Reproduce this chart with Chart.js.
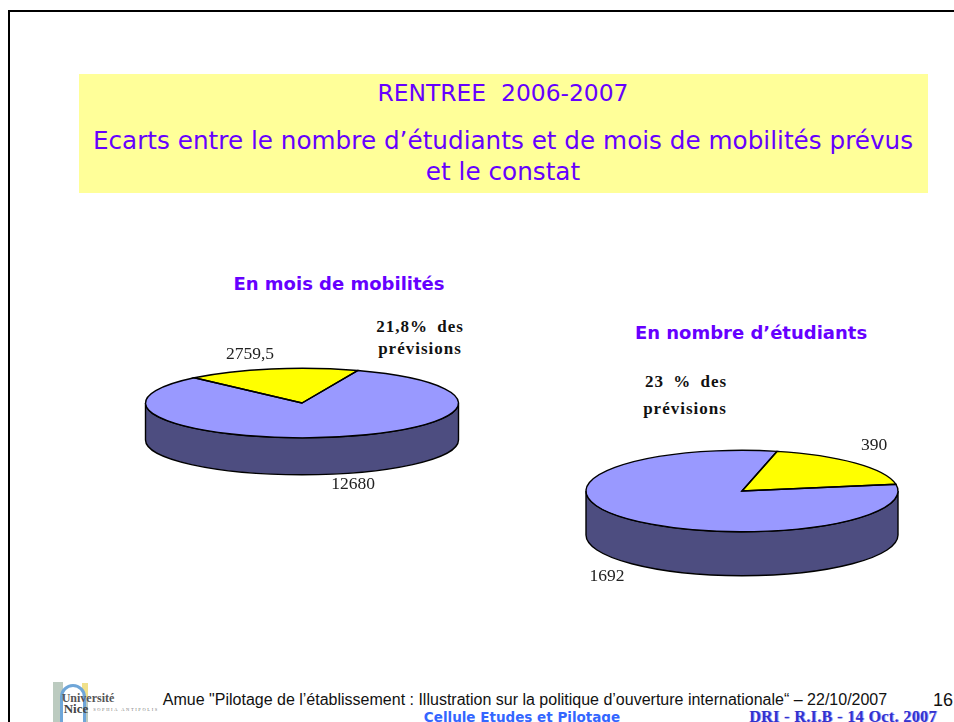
<!DOCTYPE html>
<html lang="fr">
<head>
<meta charset="utf-8">
<title>Rentree 2006-2007</title>
<script src="https://cdn.jsdelivr.net/npm/chart.js@4"></script>
<style>
	html, body { margin: 0; padding: 0; background: #fff; }
	body { position: relative; width: 954px; height: 722px; overflow: hidden; }
	.frame { position: absolute; left: 8px; top: 10px; width: 960px; height: 740px; border: 2px solid #000; box-sizing: border-box; }
	.box { position: absolute; left: 79px; top: 74px; width: 849px; height: 119px; background: #ffff99; }
	.t { position: absolute; white-space: nowrap; line-height: 1; transform: translate(-50%, -50%); }
	.head { font-family: "DejaVu Sans", sans-serif; color: #6600ff; font-size: 24.7px; }
	.sub { font-family: "DejaVu Sans", sans-serif; color: #6600ff; font-size: 18px; font-weight: bold; }
	.note { font-family: "Liberation Serif", serif; font-weight: bold; font-size: 17px; letter-spacing: 1px; word-spacing: 4px; color: #111; }
	.val { font-family: "Liberation Serif", serif; font-size: 17.5px; color: #222; }
	.foot { font-family: "Liberation Sans", sans-serif; font-size: 16px; color: #111; }
	canvas { position: absolute; }
	#pie1 { left: 142px; top: 243px; }
	#pie2 { left: 582px; top: 331px; }
	.logo { position: absolute; left: 52px; top: 682px; width: 37px; height: 40px; overflow: hidden; filter: blur(0.6px); }
	.logo i { position: absolute; display: block; }
</style>
</head>
<body>
<div class="frame"></div>
<div class="box"></div>
<div class="t head" style="left:503px;top:94px;font-size:23.4px">RENTREE&nbsp; 2006-2007</div>
<div class="t head" style="left:503px;top:141px">Ecarts entre le nombre d’étudiants et de mois de mobilités prévus</div>
<div class="t head" style="left:503px;top:172px">et le constat</div>

<div class="t sub" style="left:339px;top:284px">En mois de mobilités</div>
<div class="t sub" style="left:751px;top:333px">En nombre d’étudiants</div>
<div class="t note" style="left:420px;top:326px">21,8% des</div>
<div class="t note" style="left:420px;top:348px">prévisions</div>
<div class="t note" style="left:686px;top:381px">23 % des</div>
<div class="t note" style="left:685px;top:408px">prévisions</div>

<canvas id="pie1" width="320" height="320"></canvas>
<canvas id="pie2" width="320" height="320"></canvas>

<div class="t val" id="val1a" style="left:250px;top:354px"></div>
<div class="t val" id="val1b" style="left:353px;top:484px"></div>
<div class="t val" id="val2a" style="left:874px;top:445px"></div>
<div class="t val" id="val2b" style="left:607px;top:576px"></div>

<div class="logo">
	<i style="left:1px;top:0;width:10px;height:40px;background:#bccbc0"></i>
	<i style="left:30px;top:1px;width:6px;height:15px;background:#f0e08a"></i>
	<i style="left:30px;top:16px;width:6px;height:24px;background:#bccbc0"></i>
	<i style="left:8px;top:2px;width:20px;height:46px;border:3px solid #6fa6d8;border-radius:13px;background:#fff"></i>
</div>
<div class="t" style="left:88px;top:698px;font:bold 12px 'Liberation Serif',serif;color:#555">Université</div>
<div class="t" style="left:76px;top:709px;font:bold 13px 'Liberation Serif',serif;color:#444">Nice</div>
<div class="t" style="left:126px;top:709px;font:4.5px 'Liberation Serif',serif;letter-spacing:1.6px;color:#777">SOPHIA ANTIPOLIS</div>

<div class="t foot" style="left:525px;top:700px">Amue "Pilotage de l’établissement : Illustration sur la politique d’ouverture internationale“ – 22/10/2007</div>
<div class="t" style="left:943px;top:700px;font:18px 'Liberation Sans',sans-serif;color:#111">16</div>
<div class="t" style="left:522px;top:717px;font:bold 13.5px 'DejaVu Sans',sans-serif;color:#3366ff">Cellule Etudes et Pilotage</div>
<div class="t" style="left:843px;top:717px;font:bold 16px 'Liberation Serif',serif;letter-spacing:.4px;color:#3333cc;text-shadow:1px 0 #99f">DRI - R.I.B - 14 Oct. 2007</div>

<script>
const categories = ['Constat', 'Reste'];
const moisValues = [2759.5, 12680];
const etudiantsValues = [390, 1692];

const sliceColors = ['#ffff00', '#9999ff'];
const sideColor = '#4d4d80';

function fmt(v) {
	return String(v).replace('.', ',');
}

document.getElementById('val1a').textContent = fmt(moisValues[0]);
document.getElementById('val1b').textContent = fmt(moisValues[1]);
document.getElementById('val2a').textContent = fmt(etudiantsValues[0]);
document.getElementById('val2b').textContent = fmt(etudiantsValues[1]);

// squashes the pie to an ellipse and adds the side wall
const tiltPlugin = {
	id: 'tilt',
	beforeDatasetsDraw(chart, args, opts) {
		const ctx = chart.ctx;
		const arc = chart.getDatasetMeta(0).data[0];
		const cx = arc.x, cy = arc.y, r = arc.outerRadius;
		const ry = r * opts.squash;
		ctx.save();
		ctx.beginPath();
		ctx.moveTo(cx - r, cy);
		ctx.lineTo(cx - r, cy + opts.depth);
		ctx.ellipse(cx, cy + opts.depth, r, ry, 0, Math.PI, 0, true);
		ctx.lineTo(cx + r, cy);
		ctx.ellipse(cx, cy, r, ry, 0, 0, Math.PI, false);
		ctx.closePath();
		ctx.fillStyle = sideColor;
		ctx.fill();
		ctx.strokeStyle = '#000';
		ctx.lineWidth = 1.4;
		ctx.stroke();
		ctx.restore();

		ctx.save();
		ctx.translate(cx, cy);
		ctx.scale(1, opts.squash);
		ctx.translate(-cx, -cy);
	},
	afterDatasetsDraw(chart, args, opts) {
		const ctx = chart.ctx;
		ctx.restore();
		// outline after the restore so the line keeps its width
		chart.getDatasetMeta(0).data.forEach((arc) => {
			ctx.save();
			ctx.translate(arc.x, arc.y);
			ctx.scale(1, opts.squash);
			ctx.beginPath();
			ctx.moveTo(0, 0);
			ctx.arc(0, 0, arc.outerRadius, arc.startAngle, arc.endAngle);
			ctx.closePath();
			ctx.restore();
			ctx.strokeStyle = '#000';
			ctx.lineWidth = 1.4;
			ctx.stroke();
		});
	}
};

function makePie(id, values, rotation, radius, squash, depth) {
	return new Chart(document.getElementById(id), {
		type: 'pie',
		data: {
			labels: categories,
			datasets: [{ data: values, backgroundColor: sliceColors, borderWidth: 0 }]
		},
		options: {
			responsive: false,
			animation: false,
			rotation: rotation,
			radius: radius,
			layout: { padding: 0 },
			plugins: {
				legend: { display: false },
				tooltip: { enabled: false },
				tilt: { squash: squash, depth: depth }
			}
		},
		plugins: [tiltPlugin]
	});
}

makePie('pie1', moisValues, -43.5, 156.5, 0.222, 37);
makePie('pie2', etudiantsValues, 13, 156, 0.261, 44);
</script>
</body>
</html>
